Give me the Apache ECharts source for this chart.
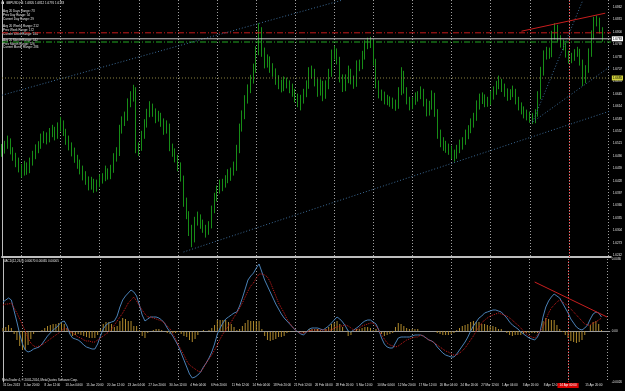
<!DOCTYPE html>
<html>
<head>
<meta charset="utf-8">
<title>GBPUSD,H4</title>
<script src="https://cdn.jsdelivr.net/npm/echarts@6/dist/echarts.min.js"></script>
<style>
  html, body { margin: 0; padding: 0; background: #000; }
  #chart { width: 625px; height: 391px; }
</style>
</head>
<body>
<div id="chart"></div>
<script>
// price bars (each slot ~ 2 H4 bars), open = previous close
const firstOpen = 1.6500;
const closes = [
  1.6505,1.6515,1.6525,1.6505,1.6490,1.6475,1.6460,1.6450,1.6465,1.6455,
  1.6475,1.6490,1.6505,1.6515,1.6530,1.6540,1.6530,1.6545,1.6555,1.6540,
  1.6560,1.6570,1.6550,1.6530,1.6515,1.6500,1.6485,1.6470,1.6455,1.6440,
  1.6430,1.6415,1.6425,1.6410,1.6420,1.6430,1.6435,1.6450,1.6440,1.6455,
  1.6485,1.6495,1.6555,1.6575,1.6585,1.6620,1.6635,1.6655,1.6505,1.6510,
  1.6540,1.6570,1.6595,1.6610,1.6600,1.6585,1.6590,1.6575,1.6555,1.6565,
  1.6510,1.6500,1.6485,1.6465,1.6435,1.6375,1.6345,1.6305,1.6280,1.6325,
  1.6335,1.6320,1.6310,1.6300,1.6315,1.6355,1.6385,1.6405,1.6415,1.6420,
  1.6430,1.6440,1.6450,1.6460,1.6505,1.6560,1.6590,1.6630,1.6655,1.6680,
  1.6705,1.6750,1.6805,1.6750,1.6720,1.6730,1.6710,1.6700,1.6680,1.6670,
  1.6660,1.6675,1.6670,1.6660,1.6650,1.6635,1.6625,1.6630,1.6645,1.6665,
  1.6695,1.6700,1.6675,1.6650,1.6670,1.6640,1.6665,1.6695,1.6740,1.6750,
  1.6730,1.6685,1.6660,1.6680,1.6700,1.6680,1.6670,1.6715,1.6715,1.6740,
  1.6765,1.6770,1.6775,1.6725,1.6670,1.6645,1.6640,1.6630,1.6630,1.6625,
  1.6620,1.6615,1.6650,1.6695,1.6655,1.6630,1.6615,1.6625,1.6635,1.6640,
  1.6650,1.6625,1.6600,1.6615,1.6640,1.6600,1.6545,1.6525,1.6515,1.6510,
  1.6505,1.6495,1.6490,1.6505,1.6515,1.6525,1.6540,1.6555,1.6570,1.6585,
  1.6615,1.6630,1.6635,1.6625,1.6625,1.6640,1.6650,1.6665,1.6675,1.6660,
  1.6650,1.6640,1.6645,1.6650,1.6630,1.6615,1.6605,1.6595,1.6590,1.6585,
  1.6580,1.6595,1.6640,1.6700,1.6740,1.6750,1.6745,1.6790,1.6810,1.6785,
  1.6770,1.6765,1.6745,1.6730,1.6735,1.6745,1.6750,1.6725,1.6680,1.6705,
  1.6745,1.6790,1.6825,1.6830,1.6805,1.6783
];
const highs = [
  1.6520,1.6528,1.6541,1.6534,1.6512,1.6498,1.6486,1.6470,1.6478,1.6474,
  1.6486,1.6503,1.6519,1.6527,1.6546,1.6552,1.6549,1.6560,1.6568,1.6563,
  1.6574,1.6588,1.6579,1.6558,1.6541,1.6524,1.6511,1.6493,1.6481,1.6466,
  1.6452,1.6439,1.6438,1.6433,1.6431,1.6444,1.6447,1.6466,1.6459,1.6468,
  1.6497,1.6512,1.6568,1.6589,1.6601,1.6634,1.6652,1.6668,1.6662,1.6524,
  1.6553,1.6582,1.6608,1.6627,1.6621,1.6609,1.6603,1.6598,1.6584,1.6579,
  1.6571,1.6521,1.6509,1.6493,1.6474,1.6441,1.6386,1.6352,1.6318,1.6338,
  1.6351,1.6344,1.6331,1.6318,1.6327,1.6366,1.6398,1.6416,1.6431,1.6433,
  1.6442,1.6457,1.6461,1.6476,1.6518,1.6571,1.6604,1.6642,1.6669,1.6693,
  1.6721,1.6764,1.6822,1.6812,1.6761,1.6744,1.6739,1.6722,1.6709,1.6692,
  1.6681,1.6689,1.6686,1.6679,1.6671,1.6658,1.6646,1.6643,1.6658,1.6679,
  1.6712,1.6716,1.6708,1.6683,1.6682,1.6678,1.6679,1.6708,1.6756,1.6766,
  1.6759,1.6738,1.6694,1.6694,1.6716,1.6708,1.6691,1.6729,1.6731,1.6753,
  1.6779,1.6786,1.6788,1.6782,1.6733,1.6679,1.6656,1.6651,1.6643,1.6639,
  1.6636,1.6631,1.6662,1.6712,1.6703,1.6662,1.6638,1.6637,1.6649,1.6652,
  1.6664,1.6658,1.6633,1.6628,1.6654,1.6648,1.6607,1.6556,1.6537,1.6528,
  1.6521,1.6516,1.6506,1.6518,1.6531,1.6537,1.6556,1.6567,1.6584,1.6598,
  1.6629,1.6646,1.6649,1.6644,1.6638,1.6653,1.6664,1.6678,1.6691,1.6683,
  1.6671,1.6659,1.6657,1.6666,1.6658,1.6638,1.6624,1.6614,1.6606,1.6601,
  1.6597,1.6607,1.6652,1.6713,1.6754,1.6763,1.6761,1.6803,1.6822,1.6818,
  1.6792,1.6781,1.6772,1.6753,1.6748,1.6757,1.6763,1.6758,1.6731,1.6717,
  1.6759,1.6804,1.6838,1.6841,1.6836,1.6812
];
const lows = [
  1.6488,1.6496,1.6508,1.6494,1.6478,1.6462,1.6449,1.6436,1.6441,1.6443,
  1.6447,1.6466,1.6482,1.6497,1.6508,1.6522,1.6519,1.6524,1.6537,1.6529,
  1.6533,1.6551,1.6540,1.6518,1.6504,1.6489,1.6473,1.6458,1.6444,1.6429,
  1.6418,1.6404,1.6406,1.6398,1.6401,1.6412,1.6421,1.6427,1.6431,1.6432,
  1.6448,1.6476,1.6490,1.6546,1.6565,1.6578,1.6612,1.6626,1.6497,1.6490,
  1.6503,1.6533,1.6561,1.6587,1.6588,1.6572,1.6576,1.6563,1.6543,1.6546,
  1.6502,1.6488,1.6474,1.6452,1.6426,1.6363,1.6332,1.6290,1.6262,1.6274,
  1.6316,1.6308,1.6298,1.6286,1.6293,1.6309,1.6347,1.6376,1.6396,1.6402,
  1.6411,1.6422,1.6428,1.6441,1.6453,1.6497,1.6551,1.6582,1.6621,1.6647,
  1.6671,1.6698,1.6742,1.6738,1.6709,1.6711,1.6698,1.6688,1.6668,1.6657,
  1.6649,1.6652,1.6659,1.6647,1.6638,1.6624,1.6612,1.6604,1.6621,1.6637,
  1.6658,1.6684,1.6664,1.6638,1.6641,1.6627,1.6633,1.6657,1.6688,1.6731,
  1.6719,1.6674,1.6650,1.6652,1.6672,1.6669,1.6658,1.6663,1.6702,1.6707,
  1.6731,1.6757,1.6760,1.6716,1.6659,1.6634,1.6628,1.6619,1.6617,1.6613,
  1.6608,1.6603,1.6608,1.6642,1.6646,1.6619,1.6604,1.6607,1.6618,1.6626,
  1.6632,1.6614,1.6589,1.6591,1.6606,1.6588,1.6533,1.6512,1.6503,1.6498,
  1.6493,1.6482,1.6476,1.6483,1.6497,1.6506,1.6518,1.6532,1.6547,1.6561,
  1.6578,1.6606,1.6620,1.6612,1.6613,1.6617,1.6631,1.6643,1.6657,1.6650,
  1.6638,1.6628,1.6630,1.6637,1.6619,1.6604,1.6594,1.6584,1.6579,1.6573,
  1.6570,1.6572,1.6588,1.6632,1.6691,1.6731,1.6733,1.6737,1.6781,1.6776,
  1.6761,1.6754,1.6736,1.6721,1.6722,1.6728,1.6738,1.6716,1.6665,1.6672,
  1.6698,1.6738,1.6782,1.6814,1.6796,1.6776
];

// MACD(12,26,9) main and signal, one value per slot
const macdMain = [
  0.00145,0.00155,0.00165,0.00155,0.00100,0.00045,-0.00015,-0.00065,-0.00095,-0.00105,
  -0.00100,-0.00090,-0.00085,-0.00080,-0.00065,-0.00045,-0.00025,-0.00010,0.00005,0.00015,
  0.00030,0.00045,0.00050,0.00025,-0.00015,-0.00035,-0.00040,-0.00045,-0.00055,-0.00070,
  -0.00080,-0.00085,-0.00090,-0.00090,-0.00065,-0.00025,0.00010,0.00030,0.00040,0.00045,
  0.00050,0.00075,0.00120,0.00155,0.00175,0.00190,0.00205,0.00195,0.00175,0.00130,
  0.00080,0.00050,0.00060,0.00070,0.00070,0.00070,0.00065,0.00055,0.00040,0.00015,
  -0.00005,-0.00025,-0.00050,-0.00075,-0.00110,-0.00145,-0.00180,-0.00215,-0.00235,-0.00230,
  -0.00220,-0.00205,-0.00180,-0.00160,-0.00135,-0.00105,-0.00065,-0.00015,0.00015,0.00040,
  0.00060,0.00070,0.00080,0.00090,0.00095,0.00125,0.00165,0.00210,0.00255,0.00275,
  0.00290,0.00315,0.00335,0.00295,0.00255,0.00225,0.00195,0.00165,0.00135,0.00110,
  0.00085,0.00065,0.00050,0.00035,0.00020,0.00005,-0.00005,-0.00015,-0.00020,-0.00005,
  0.00010,0.00015,0.00015,0.00015,0.00010,0.00005,0.00015,0.00025,0.00040,0.00055,
  0.00070,0.00060,0.00045,0.00025,0.00000,-0.00005,0.00005,0.00015,0.00025,0.00040,
  0.00050,0.00055,0.00055,0.00045,0.00035,0.00005,-0.00035,-0.00065,-0.00080,-0.00085,
  -0.00085,-0.00060,-0.00035,-0.00030,-0.00030,-0.00030,-0.00030,-0.00025,-0.00020,-0.00020,
  -0.00020,-0.00025,-0.00035,-0.00045,-0.00050,-0.00060,-0.00080,-0.00095,-0.00110,-0.00120,
  -0.00125,-0.00130,-0.00130,-0.00115,-0.00095,-0.00075,-0.00055,-0.00030,0.00000,0.00025,
  0.00045,0.00065,0.00075,0.00090,0.00095,0.00100,0.00105,0.00105,0.00100,0.00095,
  0.00080,0.00065,0.00045,0.00030,0.00020,0.00010,-0.00005,-0.00015,-0.00025,-0.00035,
  -0.00040,-0.00045,-0.00030,0.00000,0.00070,0.00120,0.00150,0.00170,0.00185,0.00175,
  0.00165,0.00140,0.00115,0.00090,0.00060,0.00040,0.00020,0.00010,0.00005,0.00015,
  0.00030,0.00060,0.00085,0.00095,0.00090,0.00070
];
const macdSignal = [
  0.00130,0.00135,0.00135,0.00140,0.00115,0.00090,0.00060,0.00030,0.00000,-0.00035,
  -0.00060,-0.00075,-0.00080,-0.00075,-0.00070,-0.00060,-0.00050,-0.00040,-0.00030,-0.00020,
  -0.00010,0.00000,0.00015,0.00010,0.00000,-0.00010,-0.00020,-0.00030,-0.00035,-0.00045,
  -0.00050,-0.00050,-0.00055,-0.00055,-0.00045,-0.00035,-0.00025,-0.00015,-0.00005,0.00010,
  0.00030,0.00050,0.00070,0.00090,0.00115,0.00140,0.00155,0.00170,0.00150,0.00125,
  0.00105,0.00085,0.00070,0.00070,0.00065,0.00060,0.00055,0.00050,0.00040,0.00025,
  0.00010,-0.00015,-0.00040,-0.00070,-0.00095,-0.00120,-0.00150,-0.00170,-0.00180,-0.00190,
  -0.00200,-0.00205,-0.00185,-0.00160,-0.00140,-0.00120,-0.00095,-0.00070,-0.00040,-0.00015,
  0.00005,0.00025,0.00045,0.00070,0.00090,0.00115,0.00140,0.00170,0.00200,0.00225,
  0.00240,0.00265,0.00285,0.00285,0.00280,0.00270,0.00245,0.00210,0.00175,0.00140,
  0.00115,0.00090,0.00060,0.00040,0.00020,0.00005,-0.00005,-0.00010,-0.00010,-0.00005,
  0.00000,0.00005,0.00005,0.00005,0.00005,0.00005,0.00005,0.00005,0.00005,0.00015,
  0.00020,0.00025,0.00025,0.00030,0.00025,0.00015,0.00005,0.00005,0.00015,0.00025,
  0.00030,0.00035,0.00040,0.00040,0.00025,0.00005,-0.00020,-0.00040,-0.00060,-0.00070,
  -0.00075,-0.00080,-0.00075,-0.00065,-0.00055,-0.00045,-0.00040,-0.00035,-0.00030,-0.00030,
  -0.00020,-0.00025,-0.00035,-0.00045,-0.00050,-0.00060,-0.00070,-0.00080,-0.00090,-0.00100,
  -0.00105,-0.00115,-0.00120,-0.00120,-0.00110,-0.00100,-0.00085,-0.00065,-0.00045,-0.00025,
  0.00000,0.00020,0.00040,0.00055,0.00065,0.00075,0.00080,0.00085,0.00090,0.00085,
  0.00080,0.00075,0.00065,0.00055,0.00040,0.00030,0.00015,0.00000,-0.00015,-0.00025,
  -0.00030,-0.00035,-0.00020,0.00000,0.00020,0.00055,0.00090,0.00115,0.00130,0.00145,
  0.00155,0.00145,0.00135,0.00125,0.00110,0.00095,0.00080,0.00065,0.00050,0.00035,
  0.00030,0.00030,0.00040,0.00045,0.00055,0.00065
];

// tick labels
const dateTicks = [
  '31 Dec 2013','3 Jan 20:00','8 Jan 12:00','13 Jan 04:00','15 Jan 20:00','20 Jan 12:00',
  '23 Jan 04:00','27 Jan 20:00','30 Jan 12:00','4 Feb 04:00','6 Feb 20:00','11 Feb 12:00',
  '14 Feb 04:00','18 Feb 20:00','21 Feb 12:00','26 Feb 04:00','28 Feb 20:00','5 Mar 12:00',
  '10 Mar 04:00','12 Mar 20:00','17 Mar 12:00','20 Mar 04:00','24 Mar 20:00','27 Mar 12:00',
  '1 Apr 04:00','3 Apr 20:00','8 Apr 12:00','11 Apr 04:00','15 Apr 20:00'
];
const priceTicks = [
  1.6862,1.6831,1.6800,1.6769,1.6738,1.6707,1.6676,1.6645,1.6614,1.6583,1.6552,
  1.6521,1.6490,1.6459,1.6428,1.6397,1.6366,1.6335,1.6304,1.6273,1.6242
];
const macdTicks = [-0.00255, 0, 0.0036];
const markerLabel = '14 Apr 00:00';

// objects drawn on the chart: [slot, value]
const channelTop = [[0, 1.6642], [122, 1.6880]];
const channelBottom = [[65, 1.6250], [218, 1.6603]];
const fanLow = [[190, 1.6575], [218, 1.6715]];
const fanSteep = [[190, 1.6575], [208, 1.6880]];
const resistance = [[186, 1.6802], [216, 1.6847]];
const macdResistance = [[191, 0.00245], [217, 0.0007]];
const redLevel = 1.6798;
const bidLevel = 1.6783;
const greenLevel = 1.6775;
const oliveLevel = 1.6685;
const markerSlot = 203;

const infoLines = [
  'Avg 20 Days Range: 73', 'Prev Day Range: 54', 'Current Day Range: 29',
  'Avg 20 Weeks Range: 212', 'Prev Week Range: 172', 'Current Week Range: 184',
  'Avg 20 Month Range: 542', 'Prev Month Range: 526', 'Current Month Range: 286'
];

const slotCount = 219;          // bars plus right shift
const slotsPerDateLabel = 7.47; // one date label every 16 H4 bars
const hiddenDate = 27;          // covered by the red time box

const chart = echarts.init(document.getElementById('chart'));

const categories = [];
for (let i = 0; i < slotCount; i++) categories.push(String(i));

const last = closes.length - 1;
const candles = closes.map((c, i) => [i === 0 ? firstOpen : closes[i - 1], c, lows[i], highs[i]]);
const histogram = macdMain.map((m, i) => +(m - macdSignal[i]).toFixed(5));
const fullWidth = (v) => [[0, v], [slotCount - 1, v]];

const FONT = 'Liberation Sans';
const TXT = '#e4e4e4';
const GREEN = '#178d17';
const weekly = {
  show: true,
  interval: (idx) => idx % 14 === 7,
  lineStyle: { color: '#a0a0a0', type: [1, 2], width: 1 }
};
const smallText = { fontSize: 3, fontFamily: FONT, color: TXT };

const trend = (data, color, type, xi, yi) => ({
  type: 'line', xAxisIndex: xi, yAxisIndex: yi, data: data,
  symbol: 'none', silent: true, z: 3,
  lineStyle: { color: color, width: 1, type: type }
});

// horizontal level with a price box on the axis
const level = (v, color, type, box) => Object.assign(trend(fullWidth(v), color, type, 1, 0), {
  z: 4,
  endLabel: {
    show: true, distance: 1, formatter: v.toFixed(4),
    backgroundColor: box, color: '#000', fontSize: 3, fontFamily: FONT, padding: [1, 1]
  }
});

const infoY = [11, 15, 19, 26.5, 30, 34, 40.5, 44, 47.5];

const options = {
  backgroundColor: '#000',
  animation: false,
  grid: [
    { left: 2, right: 13, top: 0, height: 257 },
    { left: 2, right: 13, top: 259, height: 123 }
  ],
  xAxis: [
    {
      type: 'category', gridIndex: 0, data: categories, boundaryGap: false,
      axisLine: { lineStyle: { color: '#bdbdbd', width: 2 } },
      axisTick: { show: false }, axisLabel: { show: false },
      splitLine: weekly
    },
    { type: 'value', gridIndex: 0, min: 0, max: slotCount - 1, show: false },
    {
      type: 'category', gridIndex: 1, data: categories, boundaryGap: false, position: 'bottom',
      axisLine: { lineStyle: { color: '#9a9a9a', width: 1 } },
      axisTick: { show: false }, axisLabel: { show: false },
      splitLine: weekly
    },
    {
      type: 'value', gridIndex: 1, min: 0, max: slotCount - 1, interval: slotsPerDateLabel,
      position: 'bottom',
      axisLine: { show: false }, axisTick: { show: false }, splitLine: { show: false },
      axisLabel: Object.assign({}, smallText, {
        align: 'left', margin: 2,
        formatter: (v) => {
          const k = Math.round(v / slotsPerDateLabel);
          return k === hiddenDate ? '' : (dateTicks[k] || '');
        }
      })
    }
  ],
  yAxis: [
    {
      type: 'value', gridIndex: 0, position: 'right', min: 1.62375, max: 1.6880,
      axisLine: { show: true, lineStyle: { color: '#bdbdbd' } },
      axisTick: { show: false }, splitLine: { show: false },
      axisLabel: Object.assign({}, smallText, {
        customValues: priceTicks, margin: 2,
        formatter: (v) => v.toFixed(4)
      })
    },
    {
      type: 'value', gridIndex: 1, position: 'right', min: macdTicks[0], max: macdTicks[2],
      axisLine: { show: true, lineStyle: { color: '#bdbdbd' } },
      axisTick: { show: false }, splitLine: { show: false },
      axisLabel: Object.assign({}, smallText, {
        customValues: macdTicks, margin: 2,
        formatter: (v) => (v === 0 ? '0.00' : v.toFixed(4))
      })
    }
  ],
  series: [
    {
      name: 'GBPUSD', type: 'candlestick', xAxisIndex: 0, yAxisIndex: 0,
      data: candles, barWidth: 1,
      itemStyle: { color: GREEN, color0: GREEN, borderColor: GREEN, borderColor0: GREEN, borderWidth: 1 },
      markLine: {
        silent: true, symbol: 'none', animation: false,
        data: [
          { xAxis: markerSlot, lineStyle: { color: '#d01818', width: 1, type: [1, 2] }, label: { show: false } }
        ]
      }
    },
    trend(fullWidth(redLevel), '#c41a1a', [6, 2, 1, 2], 1, 0),
    trend(fullWidth(greenLevel), '#22a822', [6, 2, 1, 2], 1, 0),
    level(bidLevel, '#c4c4c4', 'solid', '#ffffff'),
    level(oliveLevel, '#8a8240', [1, 2], '#d2d23c'),
    trend(channelTop, '#3b6a96', [1, 2], 1, 0),
    trend(channelBottom, '#3b6a96', [1, 2], 1, 0),
    trend(fanLow, '#3b6a96', [1, 2], 1, 0),
    trend(fanSteep, '#3b6a96', [1, 2], 1, 0),
    trend(resistance, '#c81e1e', 'solid', 1, 0),
    {
      name: 'OsMA', type: 'bar', xAxisIndex: 2, yAxisIndex: 1,
      data: histogram, barWidth: 1,
      itemStyle: { color: '#b08a2c' },
      markLine: {
        silent: true, symbol: 'none', animation: false,
        data: [
          { yAxis: 0, lineStyle: { color: '#9a9a9a', width: 1, type: [1, 2] }, label: { show: false } },
          {
            xAxis: markerSlot, lineStyle: { color: '#d01818', width: 1, type: [1, 2] },
            label: { show: true, position: 'start', distance: 1, formatter: markerLabel,
              backgroundColor: '#d60000', color: '#fff', fontSize: 3, fontFamily: FONT, padding: [1, 2] }
          }
        ]
      }
    },
    {
      name: 'MACD', type: 'line', xAxisIndex: 2, yAxisIndex: 1, data: macdMain,
      symbol: 'none', silent: true, lineStyle: { color: '#4a80b6', width: 1 }
    },
    {
      name: 'Signal', type: 'line', xAxisIndex: 2, yAxisIndex: 1, data: macdSignal,
      symbol: 'none', silent: true, lineStyle: { color: '#c81c1c', width: 1, type: [1, 1] }
    },
    trend(macdResistance, '#c81e1e', 'solid', 3, 1)
  ],
  graphic: [
    { type: 'rect', shape: { x: 1.5, y: 1.5, width: 2.5, height: 2.5 }, style: { fill: '#d8d8d8' } },
    {
      type: 'text', x: 6, y: 3,
      style: { text: 'GBPUSD,H4  ' + [closes[last - 1], highs[last], lows[last], closes[last]].map(v => v.toFixed(4)).join(' '),
        fill: TXT, fontSize: 3, fontFamily: FONT, verticalAlign: 'middle' }
    },
    ...infoLines.map((t, i) => ({
      type: 'text', x: 3, y: infoY[i],
      style: { text: t, fill: TXT, fontSize: 3, fontFamily: FONT, verticalAlign: 'middle' }
    })),
    {
      type: 'text', x: 3, y: 261.5,
      style: { text: 'MACD(12,26,9) ' + macdMain[last].toFixed(5) + ' ' + macdSignal[last].toFixed(5) + ' ' + histogram[last].toFixed(5),
        fill: TXT, fontSize: 3, fontFamily: FONT, verticalAlign: 'middle' }
    },
    {
      type: 'text', x: 2, y: 380,
      style: { text: 'MetaTrader 4, \u00a9 2001-2014, MetaQuotes Software Corp.',
        fill: TXT, fontSize: 3, fontFamily: FONT, verticalAlign: 'middle' }
    }
  ]
};

chart.setOption(options);
</script>
</body>
</html>
